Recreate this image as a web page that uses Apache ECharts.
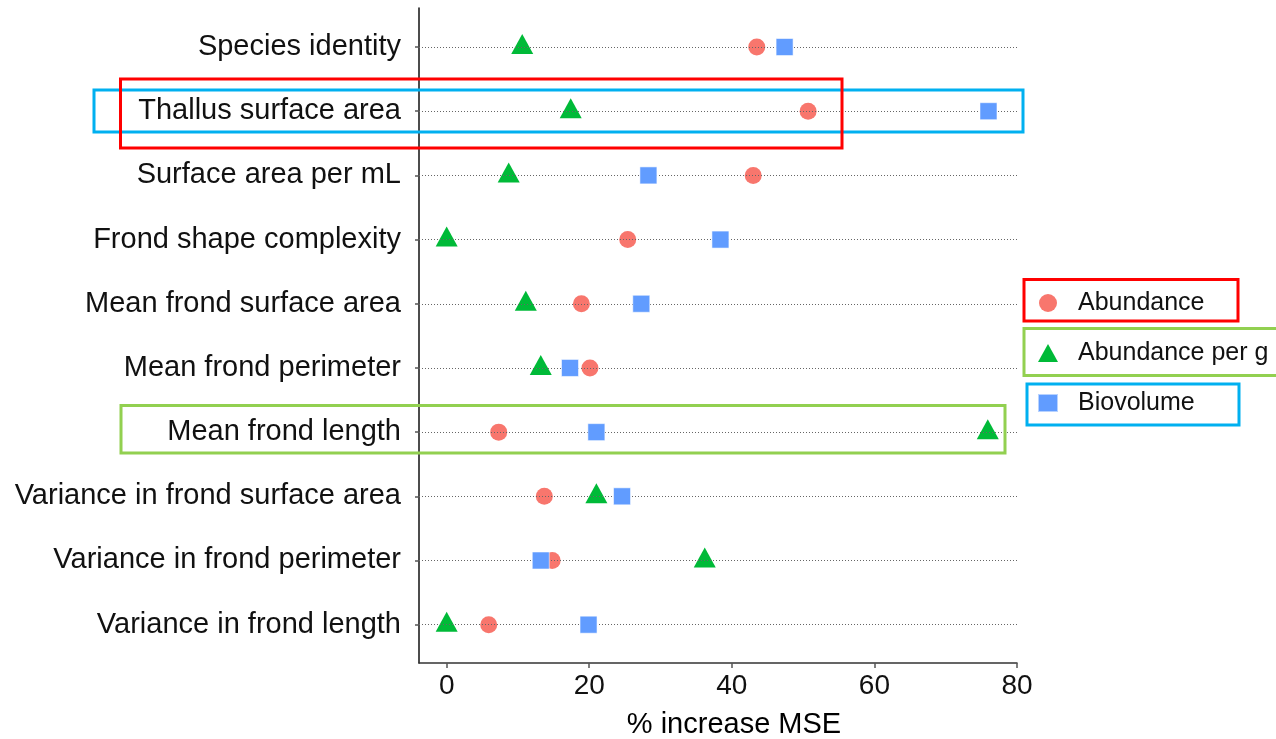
<!DOCTYPE html>
<html>
<head>
<meta charset="utf-8">
<script src="https://cdn.jsdelivr.net/npm/echarts@6/dist/echarts.min.js"></script>
<style>
  html, body { margin: 0; padding: 0; background: #ffffff; }
  #chart { width: 1276px; height: 739px; }
</style>
</head>
<body>
<div id="chart"></div>
<script>
const categories = [
  'Species identity',
  'Thallus surface area',
  'Surface area per mL',
  'Frond shape complexity',
  'Mean frond surface area',
  'Mean frond perimeter',
  'Mean frond length',
  'Variance in frond surface area',
  'Variance in frond perimeter',
  'Variance in frond length'
];
const abundance     = [43.5, 50.7, 43.0, 25.4, 18.9, 20.1, 7.3, 13.7, 14.8, 5.9];
const abundancePerG = [10.6, 17.4, 8.7, 0.0, 11.1, 13.2, 75.9, 21.0, 36.2, 0.0];
const biovolume     = [47.4, 76.0, 28.3, 38.4, 27.3, 17.3, 21.0, 24.6, 13.2, 19.9];
const xTicks = [0, 20, 40, 60, 80];
const seriesNames = ['Abundance', 'Abundance per g', 'Biovolume'];

const FONT = 'Liberation Sans, Arial, sans-serif';
const chart = echarts.init(document.getElementById('chart'), null, { renderer: 'canvas' });

const toPts = arr => arr.map((v, i) => [v, i]);
const rowIdx = categories.map((c, i) => i);

const option = {
  animation: false,
  backgroundColor: '#ffffff',
  grid: { left: 419, top: 8, width: 598, height: 655, containLabel: false, outerBoundsMode: 'none' },
  xAxis: {
    type: 'value',
    min: -3.88,
    max: 80,
    name: '% increase MSE',
    nameLocation: 'middle',
    nameGap: 47,
    nameTextStyle: { fontSize: 29, color: '#000', fontFamily: FONT, padding: [0, 0, 0, 32] },
    axisLine: { show: true, onZero: false, lineStyle: { color: '#333', width: 1.5 } },
    axisTick: { show: true, length: 5, customValues: xTicks, lineStyle: { color: '#555', width: 1.5 } },
    axisLabel: { customValues: xTicks, fontSize: 28, color: '#111', fontFamily: FONT, margin: 9 },
    splitLine: { show: false }
  },
  yAxis: {
    type: 'value',
    inverse: true,
    min: -0.608,
    max: 9.597,
    axisLine: { show: true, onZero: false, lineStyle: { color: '#111', width: 1.5 } },
    axisTick: { show: true, length: 4, customValues: rowIdx, lineStyle: { color: '#555', width: 1.5 } },
    axisLabel: {
      customValues: rowIdx,
      formatter: v => categories[Math.round(v)] || '',
      fontSize: 29, color: '#111', fontFamily: FONT, margin: 18
    },
    splitLine: { show: false }
  },
  legend: {
    orient: 'vertical',
    left: 1032,
    top: 285,
    itemWidth: 20,
    itemHeight: 18,
    itemGap: 24,
    data: seriesNames,
    textStyle: { fontSize: 25, color: '#111', fontFamily: FONT, lineHeight: 26, padding: [0, 0, 0, 15] }
  },
  series: [
    {
      name: 'guides',
      type: 'scatter',
      data: [],
      z: 1,
      silent: true,
      markLine: {
        silent: true,
        symbol: ['none', 'none'],
        label: { show: false },
        lineStyle: { type: [1, 2], color: '#666', width: 1.2 },
        emphasis: { disabled: true },
        data: rowIdx.map(i => ({ yAxis: i }))
      }
    },
    {
      name: 'Abundance',
      type: 'scatter',
      symbol: 'circle',
      symbolSize: 17,
      z: 3,
      itemStyle: { color: '#F8766D', opacity: 1 },
      data: toPts(abundance)
    },
    {
      name: 'Abundance per g',
      type: 'scatter',
      symbol: 'triangle',
      symbolSize: [22, 20],
      symbolOffset: [0, -3],
      z: 4,
      itemStyle: { color: '#00BA38', opacity: 1 },
      data: toPts(abundancePerG)
    },
    {
      name: 'Biovolume',
      type: 'scatter',
      symbol: 'rect',
      symbolSize: 17,
      z: 5,
      itemStyle: { color: '#619CFF', opacity: 1, borderColor: 'rgba(255,255,255,0.55)', borderWidth: 1 },
      data: toPts(biovolume)
    }
  ],
  graphic: [
    { type: 'rect', z: 100, shape: { x: 94, y: 90, width: 929, height: 42 }, style: { fill: 'none', stroke: '#00B0F0', lineWidth: 3 } },
    { type: 'rect', z: 101, shape: { x: 120.5, y: 79, width: 721.5, height: 69 }, style: { fill: 'none', stroke: '#FF0000', lineWidth: 3 } },
    { type: 'rect', z: 100, shape: { x: 121, y: 405.5, width: 884, height: 47.5 }, style: { fill: 'none', stroke: '#92D050', lineWidth: 3 } },
    { type: 'rect', z: 100, shape: { x: 1024, y: 279.5, width: 214, height: 41.5 }, style: { fill: 'none', stroke: '#FF0000', lineWidth: 3 } },
    { type: 'rect', z: 100, shape: { x: 1024, y: 328.5, width: 270, height: 47 }, style: { fill: 'none', stroke: '#92D050', lineWidth: 3 } },
    { type: 'rect', z: 100, shape: { x: 1027, y: 384, width: 212, height: 41 }, style: { fill: 'none', stroke: '#00B0F0', lineWidth: 3 } }
  ]
};

chart.setOption(option);
</script>
</body>
</html>
